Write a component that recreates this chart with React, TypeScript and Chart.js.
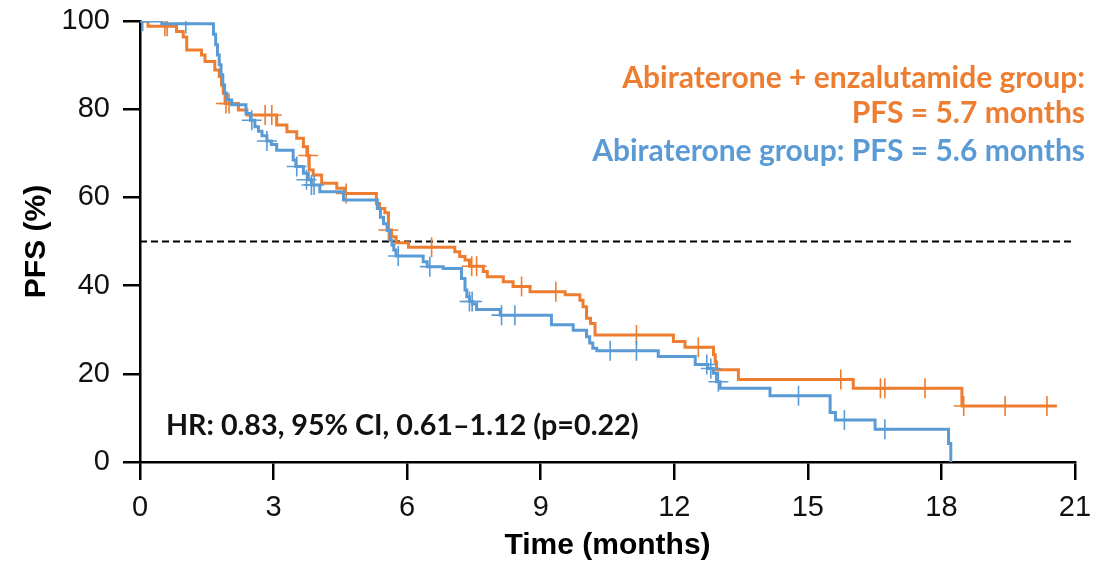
import React, { useEffect, useRef } from "react";
import { Chart, registerables } from "chart.js";

Chart.register(...registerables);

// Kaplan–Meier step points: [time (months), PFS (%)]
const abiEnzaSteps: [number, number][] = [
  [0, 100], [0.18, 98.8], [0.82, 97.6], [0.97, 96.4], [1.05, 93.4], [1.38, 92.3], [1.46, 90.8],
  [1.68, 88.9], [1.78, 87.4], [1.83, 85.5], [1.87, 83.6], [1.91, 81.3], [2.21, 79.8], [2.4, 78.7],
  [3.07, 76.4], [3.3, 74.9], [3.52, 73.4], [3.67, 71.5], [3.75, 69.5], [3.8, 66.2], [3.89, 65.1],
  [4.08, 63.2], [4.42, 62.1], [4.6, 60.9], [5.31, 58.6], [5.38, 57.5], [5.5, 56.5], [5.58, 52.6],
  [5.65, 51.1], [5.75, 49.7], [6.03, 48.7], [7.07, 47.7], [7.18, 46.6], [7.3, 45.8], [7.4, 44.4],
  [7.71, 43.2], [7.8, 42.0], [8.16, 40.9], [8.38, 39.8], [8.76, 38.6], [9.55, 37.9], [9.88, 36.7],
  [9.95, 35.2], [10.03, 32.6], [10.12, 31.4], [10.22, 28.8], [11.98, 27.3], [12.24, 26.0],
  [12.88, 24.3], [12.92, 22.7], [12.95, 20.9], [13.44, 18.7], [16.02, 16.7], [18.46, 12.7], [20.59, 12.7],
];
const abiEnzaCensored: [number, number][] = [
  [0.56, 98.8], [0.61, 98.8], [1.93, 81.3], [2.0, 81.3], [2.81, 78.7], [2.96, 78.7], [3.78, 69.5],
  [4.63, 60.9], [5.58, 52.6], [6.55, 48.7], [7.45, 44.4], [7.56, 44.4], [8.57, 39.8], [9.34, 38.6],
  [11.15, 28.8], [12.54, 26.0], [15.74, 18.7], [16.63, 16.7], [16.73, 16.7], [17.63, 16.7],
  [18.5, 12.7], [19.43, 12.7], [20.37, 12.7],
];

const abiSteps: [number, number][] = [
  [0, 100], [0.49, 99.4], [1.65, 97.0], [1.7, 94.6], [1.74, 92.3], [1.78, 90.1], [1.82, 87.8],
  [1.86, 85.5], [1.9, 83.6], [1.95, 82.1], [2.06, 81.0], [2.38, 79.0], [2.48, 77.5], [2.58, 76.0],
  [2.66, 75.0], [2.74, 74.0], [2.85, 72.8], [2.95, 72.0], [3.07, 70.7], [3.44, 68.5], [3.5, 67.0],
  [3.67, 65.5], [3.78, 64.0], [3.85, 62.8], [4.04, 61.3], [4.57, 59.4], [5.33, 57.5], [5.4, 55.5],
  [5.47, 54.0], [5.55, 52.5], [5.62, 50.3], [5.66, 49.2], [5.7, 48.1], [5.75, 46.7], [6.36, 45.4],
  [6.45, 44.3], [6.81, 43.9], [7.22, 41.6], [7.3, 39.0], [7.34, 37.5], [7.4, 36.4], [7.47, 35.8],
  [7.56, 34.6], [8.09, 33.3], [9.24, 31.1], [9.73, 29.9], [10.03, 28.4], [10.1, 27.0], [10.17, 25.8],
  [10.26, 25.2], [11.64, 23.9], [12.47, 22.1], [12.75, 21.2], [12.88, 20.1], [12.95, 18.2],
  [13.03, 16.7], [14.15, 15.0], [15.5, 11.2], [15.62, 9.5], [16.51, 7.4], [18.16, 4.2], [18.21, 0],
];
const abiCensored: [number, number][] = [
  [0.06, 100], [1.03, 99.4], [2.51, 77.5], [2.85, 72.8], [3.52, 67.0], [3.74, 64.0], [3.85, 62.8],
  [3.91, 62.8], [5.8, 46.7], [6.51, 44.3], [7.4, 36.4], [7.46, 36.4], [8.12, 33.3], [8.42, 33.3],
  [10.56, 25.2], [11.15, 25.2], [12.73, 22.1], [12.82, 21.2], [12.99, 18.2], [14.79, 15.0],
  [15.82, 9.5], [16.73, 7.4],
];

const medianLine: [number, number][] = [[0, 50], [21, 50]];

const xTicks = [0, 3, 6, 9, 12, 15, 18, 21];
const yTicks = [0, 20, 40, 60, 80, 100];

const legendLines = [
  { text: "Abiraterone + enzalutamide group:", color: "#ED7D31" },
  { text: "PFS = 5.7 months", color: "#ED7D31" },
  { text: "Abiraterone group: PFS = 5.6 months", color: "#5B9BD5" },
];
const hrText = "HR: 0.83, 95% CI, 0.61\u20131.12 (p=0.22)";

const ORANGE = "#ED7D31";
const BLUE = "#5B9BD5";
const AXIS_FONT = "'Liberation Sans', Arial, sans-serif";

const toPts = (arr: [number, number][]) => arr.map(([x, y]) => ({ x, y }));

export default function App() {
  const ref = useRef<HTMLCanvasElement | null>(null);
  useEffect(() => {
    document.body.style.margin = "0";
    const canvas = ref.current!;
    const textPlugin = {
      id: "annot",
      afterDraw(chart: any) {
        const { ctx } = chart;
        ctx.save();
        ctx.font = "bold 30px Lato, 'Open Sans', sans-serif";
        ctx.textAlign = "right";
        ctx.textBaseline = "alphabetic";
        const baselines = [88, 123, 161];
        legendLines.forEach((l, i) => {
          ctx.fillStyle = l.color;
          ctx.fillText(l.text, 1085, baselines[i]);
        });
        ctx.textAlign = "left";
        ctx.fillStyle = "#111";
        ctx.font = "bold 28.7px Lato, 'Open Sans', sans-serif";
        ctx.fillText(hrText, 166, 435);
        ctx.restore();
      },
    };
    const crossSet = (pts: [number, number][], color: string) =>
      ({
        data: toPts(pts),
        showLine: false,
        pointStyle: "cross",
        pointRadius: 10,
        pointBorderWidth: 1.6,
        pointBorderColor: color,
        borderColor: color,
      } as any);
    const chart = new Chart(canvas, {
      type: "line",
      data: {
        datasets: [
          crossSet(abiCensored, BLUE),
          {
            data: toPts(abiSteps),
            stepped: "before",
            borderColor: BLUE,
            borderWidth: 3,
            pointRadius: 0,
            fill: false,
          },
          crossSet(abiEnzaCensored, ORANGE),
          {
            data: toPts(abiEnzaSteps),
            stepped: "before",
            borderColor: ORANGE,
            borderWidth: 3,
            pointRadius: 0,
            fill: false,
          },
          {
            data: toPts(medianLine),
            borderColor: "#000",
            borderWidth: 2,
            borderDash: [7, 4],
            pointRadius: 0,
          },
        ],
      },
      options: {
        animation: false,
        responsive: false,
        layout: { padding: { top: 21, right: 44, left: 0, bottom: 0 } },
        plugins: { legend: { display: false }, tooltip: { enabled: false } },
        scales: {
          x: {
            type: "linear",
            min: 0,
            max: 21,
            afterBuildTicks: (s: any) => {
              s.ticks = xTicks.map((v) => ({ value: v }));
            },
            afterFit: (s: any) => {
              s.height = 103;
              s.paddingLeft = 0;
              s.paddingRight = 0;
            },
            ticks: {
              font: { family: AXIS_FONT, size: 29 },
              color: "#111",
              padding: 11,
              maxRotation: 0,
            },
            grid: {
              drawOnChartArea: false,
              drawTicks: true,
              tickLength: 18,
              color: "#000",
              lineWidth: 2.5,
            },
            border: { color: "#000", width: 2.5 },
            title: {
              display: true,
              text: "Time (months)",
              font: { family: AXIS_FONT, size: 30, weight: "bold" },
              color: "#000",
              padding: { bottom: 1, top: 0 },
            },
          },
          y: {
            type: "linear",
            min: 0,
            max: 100,
            afterBuildTicks: (s: any) => {
              s.ticks = yTicks.map((v) => ({ value: v }));
            },
            afterFit: (s: any) => {
              s.width = 140;
              s.paddingTop = 0;
              s.paddingBottom = 0;
            },
            ticks: {
              font: { family: AXIS_FONT, size: 29 },
              color: "#111",
              padding: 13,
            },
            grid: {
              drawOnChartArea: false,
              drawTicks: true,
              tickLength: 17,
              color: "#000",
              lineWidth: 2.5,
            },
            border: { color: "#000", width: 2.5 },
            title: {
              display: true,
              text: "PFS (%)",
              font: { family: AXIS_FONT, size: 30, weight: "bold" },
              color: "#000",
              padding: { top: 19, bottom: 0 },
            },
          },
        },
      },
      plugins: [textPlugin],
    });
    return () => chart.destroy();
  }, []);
  return <canvas ref={ref} width={1119} height={565} style={{ display: "block", width: 1119, height: 565 }} />;
}
